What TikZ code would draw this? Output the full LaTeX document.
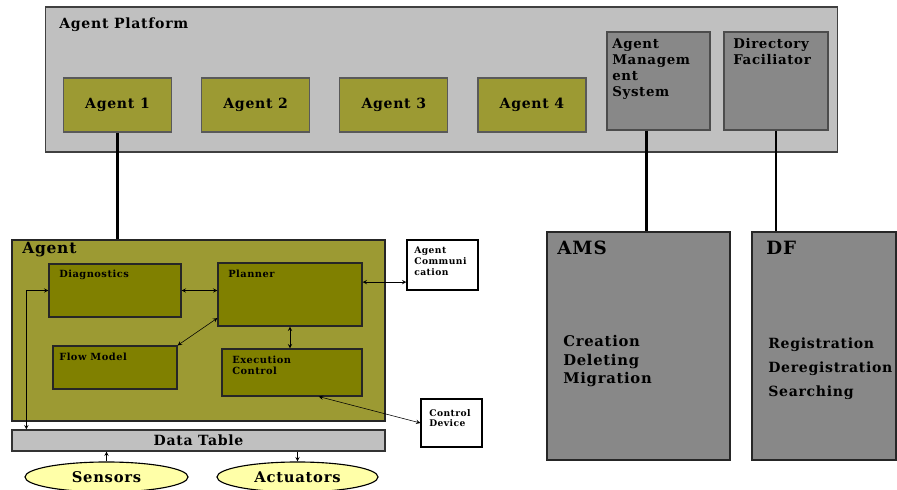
\documentclass[tikz,border=0pt]{standalone}
\usepackage{fontspec}
\setmainfont{DejaVu Serif}[LetterSpace=5]
\usetikzlibrary{shapes.geometric, arrows, positioning}

\definecolor{platgray}{HTML}{C0C0C0}
\definecolor{servicegray}{HTML}{888888}
\definecolor{agentolive}{HTML}{9C9A33}
\definecolor{moduleolive}{HTML}{808000}
\definecolor{sensoryellow}{HTML}{FFFFA8}

\begin{document}
\begin{tikzpicture}[x=0.025cm, y=-0.025cm,
      % Define compact styles
      platform/.style={rectangle, draw=black!75, thick, fill=platgray, minimum width=19.775cm, minimum height=3.625cm},
      member/.style={rectangle, draw=black!65, thick, fill=agentolive, minimum width=2.7cm, minimum height=1.35cm, font=\fontsize{10}{12}\selectfont\bfseries},
      service/.style={rectangle, draw=black!70, thick, fill=servicegray, minimum width=2.6cm, minimum height=2.45cm},
      servicebig/.style={rectangle, draw=black!85, thick, fill=servicegray, minimum width=4.575cm, minimum height=5.7cm},
      agentframe/.style={rectangle, draw=black!85, thick, fill=agentolive, minimum width=9.325cm, minimum height=4.525cm},
      module/.style={rectangle, draw=black!85, thick, fill=moduleolive},
      extbox/.style={rectangle, draw, thick, fill=white},
      datastrip/.style={rectangle, draw=black!80, thick, fill=platgray, minimum width=9.325cm, minimum height=0.525cm, font=\fontsize{10}{12}\selectfont\bfseries},
      sensor/.style={ellipse, draw, thick, fill=sensoryellow, minimum height=0.75cm, font=\fontsize{10.5}{12}\selectfont\bfseries},
      title/.style={anchor=base west, inner sep=0pt, align=left},
      block/.style={anchor=north west, inner sep=0pt, align=left},
      biarrow/.style={<->, >=stealth, thin},
      arrow/.style={->, >=stealth, thin},
      link/.style={line width=1.5pt}
    ]
    \clip (0,0) rectangle (897,490);

    % Agent platform
    \node[platform] (platform) at (441.5,79.5) {};
    \node[title, font=\fontsize{10}{12}\selectfont\bfseries] (platformtitle) at (59,29) {Agent Platform};
    \node[member] (agent1) at (117.5,105) {Agent 1};
    \node[member, right=0.725cm of agent1] (agent2) {Agent 2};
    \node[member, right=0.725cm of agent2] (agent3) {Agent 3};
    \node[member, right=0.725cm of agent3] (agent4) {Agent 4};
    \node[service, minimum width=2.575cm] (amsmgmt) at (658.5,81) {};
    \node[service] (dirfac) at (776,81) {};
    \node[block, font=\fontsize{9.5}{11.4}\selectfont\bfseries] (amsmgmttext) at (612,38) {Agent\\Managem\\ent\\System};
    \node[block, font=\fontsize{9.5}{11.4}\selectfont\bfseries] (dirfactext) at (733,38) {Directory\\Faciliator};

    % AMS and DF
    \node[servicebig] (amsbox) at (638.5,346) {};
    \node[servicebig, minimum width=3.6cm] (dfbox) at (824,346) {};
    \node[title, font=\fontsize{13}{15}\selectfont\bfseries] (amstitle) at (557,255) {AMS};
    \node[title, font=\fontsize{13}{15}\selectfont\bfseries] (dftitle) at (766,255) {DF};
    \node[block, font=\fontsize{10.5}{13.2}\selectfont\bfseries] (amsitems) at (563,335) {Creation\\Deleting\\Migration};
    \node[block, font=\fontsize{10}{17}\selectfont\bfseries] (dfitems) at (768,338) {Registration\\Deregistration\\Searching};

    % Agent internals
    \node[agentframe] (agentbox) at (198.5,330.5) {};
    \node[title, font=\fontsize{11}{13}\selectfont\bfseries] (agenttitle) at (22,254) {Agent};
    \node[module, minimum width=3.3cm, minimum height=1.325cm] (diag) at (115,290.5) {};
    \node[module, minimum width=3.6cm, minimum height=1.575cm] (planner) at (290,294.5) {};
    \node[module, minimum width=3.1cm, minimum height=1.075cm] (flow) at (115,367.5) {};
    \node[module, minimum width=3.5cm, minimum height=1.175cm] (exec) at (292,372.5) {};
    \node[title, font=\fontsize{7}{8}\selectfont\bfseries] (diagtext) at (59,278) {Diagnostics};
    \node[title, font=\fontsize{7}{8}\selectfont\bfseries] (plannertext) at (228,278) {Planner};
    \node[title, font=\fontsize{7}{8}\selectfont\bfseries] (flowtext) at (59,361) {Flow Model};
    \node[block, font=\fontsize{7}{7.8}\selectfont\bfseries] (exectext) at (232,356) {Execution\\Control};
    \node[extbox, minimum width=1.775cm, minimum height=1.25cm] (agentcomm) at (442.5,265) {};
    \node[block, font=\fontsize{6.5}{7.6}\selectfont\bfseries] (agentcommtext) at (414,247) {Agent\\Communi\\cation};
    \node[extbox, minimum width=1.525cm, minimum height=1.2cm] (ctrldev) at (451.5,423) {};
    \node[block, font=\fontsize{6.5}{7.4}\selectfont\bfseries] (ctrldevtext) at (429,409) {Control\\Device};
    \node[datastrip] (datatable) at (198.5,440.5) {Data Table};
    \node[sensor, minimum width=4.075cm] (sensors) at (106.5,477) {Sensors};
    \node[sensor, minimum width=4.025cm] (actuators) at (297.5,477) {Actuators};

    % Links
    \draw[link] (agent1.south) -- (agent1.south |- agentbox.north);
    \coordinate (amsdrop) at ([xshift=-0.3cm]amsmgmt.south);
    \draw[link] (amsdrop) -- (amsdrop |- amsbox.north);
    \draw[link] (dirfac.south) -- (dirfac.south |- dfbox.north);

    % Arrows
    \draw[biarrow] (diag.east) -- (diag.east -| planner.west);
    \coordinate (commport) at ([yshift=0.31cm]planner.east);
    \draw[biarrow] (commport) -- (commport -| agentcomm.west);
    \draw[biarrow] (planner.south) -- (planner.south |- exec.north);
    \draw[biarrow] (flow.north east) -- (planner.198);
    \draw[biarrow] (exec.318) -- (ctrldev.west);
    \draw[biarrow] ([xshift=0.375cm]datatable.north west) |- (diag.west);
    \draw[arrow] (sensors.north) -- (sensors.north |- datatable.south);
    \draw[arrow] (actuators.north |- datatable.south) -- (actuators.north);

  \end{tikzpicture}
\end{document}
